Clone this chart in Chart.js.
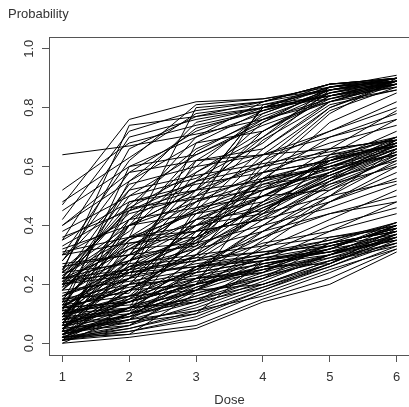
<!DOCTYPE html>
<html>
<head>
<meta charset="utf-8">
<script src="https://cdn.jsdelivr.net/npm/chart.js@4/dist/chart.umd.min.js"></script>
<style>
  html, body { margin: 0; padding: 0; background: #fff; overflow: hidden; }
  canvas { display: block; }
</style>
</head>
<body>
<canvas id="chart-dose-curves" width="411" height="407"></canvas>
<script>
// dose levels and axis ticks
const doses = [1, 2, 3, 4, 5, 6];
const doseTicks = [1, 2, 3, 4, 5, 6];
const probTicks = [0, 0.2, 0.4, 0.6, 0.8, 1.0];

// curves that end near 0.85 - 0.91
const highCurves = [
  [0.64, 0.67, 0.71, 0.76, 0.82, 0.88],
  [0.47, 0.76, 0.82, 0.83, 0.86, 0.90],
  [0.30, 0.62, 0.81, 0.83, 0.87, 0.90],
  [0.20, 0.52, 0.75, 0.80, 0.88, 0.90],
  [0.12, 0.45, 0.70, 0.82, 0.88, 0.89],
  [0.40, 0.55, 0.68, 0.79, 0.87, 0.89],
  [0.23, 0.38, 0.60, 0.78, 0.86, 0.90],
  [0.10, 0.30, 0.55, 0.75, 0.85, 0.89],
  [0.05, 0.25, 0.50, 0.72, 0.84, 0.88],
  [0.35, 0.70, 0.76, 0.80, 0.84, 0.89],
  [0.52, 0.68, 0.74, 0.79, 0.85, 0.88],
  [0.22, 0.47, 0.66, 0.76, 0.83, 0.89],
  [0.15, 0.35, 0.48, 0.69, 0.82, 0.88],
  [0.08, 0.20, 0.42, 0.64, 0.80, 0.88],
  [0.28, 0.58, 0.72, 0.80, 0.87, 0.91],
  [0.45, 0.60, 0.70, 0.78, 0.86, 0.90],
  [0.03, 0.15, 0.36, 0.60, 0.79, 0.87],
  [0.18, 0.42, 0.62, 0.76, 0.86, 0.89],
  [0.38, 0.50, 0.64, 0.74, 0.82, 0.86],
  [0.25, 0.66, 0.77, 0.82, 0.88, 0.90],
  [0.12, 0.28, 0.52, 0.70, 0.84, 0.89],
  [0.33, 0.46, 0.58, 0.72, 0.83, 0.87],
  [0.06, 0.40, 0.65, 0.77, 0.85, 0.89],
  [0.48, 0.63, 0.78, 0.81, 0.86, 0.89],
  [0.21, 0.33, 0.45, 0.66, 0.81, 0.86],
  [0.14, 0.55, 0.73, 0.79, 0.84, 0.88],
  [0.42, 0.72, 0.79, 0.82, 0.86, 0.90],
  [0.02, 0.10, 0.30, 0.55, 0.75, 0.85],
  [0.09, 0.32, 0.34, 0.62, 0.80, 0.89],
  [0.26, 0.30, 0.58, 0.70, 0.87, 0.89],
  [0.04, 0.48, 0.52, 0.80, 0.83, 0.88],
  [0.17, 0.22, 0.68, 0.72, 0.85, 0.90],
  [0.11, 0.60, 0.64, 0.75, 0.87, 0.89],
  [0.31, 0.36, 0.80, 0.82, 0.88, 0.90],
  [0.07, 0.12, 0.46, 0.81, 0.84, 0.89],
  [0.19, 0.50, 0.56, 0.68, 0.86, 0.88],
  [0.02, 0.27, 0.62, 0.66, 0.82, 0.89],
  [0.36, 0.45, 0.52, 0.80, 0.84, 0.87],
  [0.13, 0.40, 0.44, 0.58, 0.78, 0.90],
  [0.24, 0.74, 0.77, 0.80, 0.87, 0.90]
];

// curves that end near 0.72 - 0.82
const upperCurves = [
  [0.20, 0.36, 0.50, 0.62, 0.72, 0.80],
  [0.10, 0.22, 0.40, 0.56, 0.70, 0.78],
  [0.30, 0.42, 0.55, 0.64, 0.72, 0.82],
  [0.05, 0.18, 0.32, 0.48, 0.64, 0.76],
  [0.24, 0.40, 0.52, 0.60, 0.68, 0.74],
  [0.16, 0.26, 0.38, 0.50, 0.62, 0.72],
  [0.22, 0.54, 0.60, 0.64, 0.70, 0.76],
  [0.09, 0.28, 0.48, 0.58, 0.66, 0.79]
];

// curves that end near 0.58 - 0.70
const middleCurves = [
  [0.24, 0.45, 0.55, 0.60, 0.64, 0.69],
  [0.12, 0.30, 0.42, 0.52, 0.62, 0.68],
  [0.05, 0.18, 0.30, 0.45, 0.58, 0.67],
  [0.22, 0.32, 0.42, 0.50, 0.60, 0.66],
  [0.10, 0.15, 0.28, 0.42, 0.55, 0.65],
  [0.02, 0.10, 0.22, 0.38, 0.52, 0.64],
  [0.35, 0.48, 0.54, 0.58, 0.62, 0.68],
  [0.18, 0.40, 0.48, 0.55, 0.63, 0.70],
  [0.08, 0.25, 0.38, 0.50, 0.60, 0.67],
  [0.13, 0.22, 0.34, 0.48, 0.57, 0.66],
  [0.04, 0.12, 0.25, 0.40, 0.54, 0.63],
  [0.22, 0.28, 0.36, 0.46, 0.56, 0.62],
  [0.11, 0.20, 0.30, 0.44, 0.56, 0.69],
  [0.28, 0.52, 0.57, 0.61, 0.65, 0.70],
  [0.01, 0.06, 0.18, 0.33, 0.48, 0.60],
  [0.09, 0.35, 0.45, 0.53, 0.61, 0.68],
  [0.16, 0.30, 0.40, 0.47, 0.55, 0.64],
  [0.06, 0.14, 0.26, 0.38, 0.50, 0.62],
  [0.20, 0.25, 0.35, 0.47, 0.58, 0.67],
  [0.03, 0.08, 0.20, 0.35, 0.50, 0.66],
  [0.40, 0.58, 0.62, 0.64, 0.66, 0.69],
  [0.12, 0.18, 0.32, 0.45, 0.56, 0.65],
  [0.23, 0.36, 0.44, 0.52, 0.59, 0.64],
  [0.07, 0.28, 0.40, 0.50, 0.58, 0.66],
  [0.14, 0.24, 0.36, 0.46, 0.54, 0.60],
  [0.02, 0.12, 0.24, 0.40, 0.55, 0.68],
  [0.25, 0.44, 0.50, 0.56, 0.62, 0.67],
  [0.10, 0.16, 0.25, 0.36, 0.48, 0.58],
  [0.19, 0.32, 0.46, 0.54, 0.61, 0.69],
  [0.05, 0.22, 0.33, 0.43, 0.53, 0.63],
  [0.04, 0.34, 0.36, 0.56, 0.60, 0.68],
  [0.15, 0.17, 0.44, 0.48, 0.63, 0.67],
  [0.21, 0.46, 0.49, 0.52, 0.66, 0.69],
  [0.01, 0.20, 0.42, 0.45, 0.57, 0.66],
  [0.09, 0.11, 0.38, 0.56, 0.59, 0.70],
  [0.27, 0.30, 0.33, 0.58, 0.62, 0.68],
  [0.06, 0.42, 0.46, 0.50, 0.52, 0.61],
  [0.12, 0.14, 0.20, 0.52, 0.58, 0.69],
  [0.18, 0.36, 0.38, 0.42, 0.64, 0.67],
  [0.03, 0.16, 0.35, 0.54, 0.57, 0.65],
  [0.32, 0.40, 0.52, 0.55, 0.60, 0.64],
  [0.10, 0.26, 0.29, 0.44, 0.62, 0.70]
];

// curves that end near 0.44 - 0.56
const lowerMidCurves = [
  [0.08, 0.14, 0.22, 0.32, 0.42, 0.52],
  [0.20, 0.28, 0.34, 0.40, 0.46, 0.54],
  [0.03, 0.10, 0.18, 0.28, 0.38, 0.48],
  [0.12, 0.26, 0.32, 0.38, 0.44, 0.50],
  [0.30, 0.34, 0.38, 0.42, 0.48, 0.56],
  [0.06, 0.12, 0.20, 0.30, 0.40, 0.46],
  [0.05, 0.24, 0.28, 0.36, 0.44, 0.48],
  [0.14, 0.36, 0.40, 0.44, 0.50, 0.55],
  [0.01, 0.08, 0.26, 0.34, 0.38, 0.44]
];

// curves that end near 0.31 - 0.41
const lowCurves = [
  [0.02, 0.05, 0.10, 0.18, 0.26, 0.35],
  [0.05, 0.08, 0.14, 0.22, 0.30, 0.38],
  [0.10, 0.14, 0.20, 0.26, 0.32, 0.40],
  [0.01, 0.03, 0.06, 0.15, 0.22, 0.32],
  [0.12, 0.18, 0.24, 0.28, 0.33, 0.39],
  [0.04, 0.10, 0.16, 0.24, 0.30, 0.36],
  [0.20, 0.23, 0.26, 0.30, 0.34, 0.38],
  [0.08, 0.12, 0.18, 0.25, 0.32, 0.40],
  [0.03, 0.07, 0.12, 0.20, 0.28, 0.37],
  [0.15, 0.20, 0.24, 0.28, 0.32, 0.36],
  [0.06, 0.09, 0.15, 0.22, 0.29, 0.34],
  [0.01, 0.04, 0.09, 0.18, 0.27, 0.39],
  [0.22, 0.25, 0.28, 0.31, 0.35, 0.41],
  [0.09, 0.16, 0.22, 0.27, 0.31, 0.35],
  [0.02, 0.06, 0.13, 0.21, 0.30, 0.40],
  [0.11, 0.13, 0.17, 0.23, 0.30, 0.37],
  [0.04, 0.08, 0.11, 0.16, 0.24, 0.33],
  [0.13, 0.22, 0.27, 0.30, 0.34, 0.38],
  [0.07, 0.11, 0.19, 0.26, 0.33, 0.39],
  [0.00, 0.02, 0.05, 0.14, 0.20, 0.31],
  [0.18, 0.21, 0.25, 0.29, 0.33, 0.37],
  [0.03, 0.09, 0.16, 0.23, 0.28, 0.34],
  [0.10, 0.12, 0.15, 0.20, 0.27, 0.36],
  [0.05, 0.14, 0.20, 0.25, 0.30, 0.35],
  [0.24, 0.27, 0.30, 0.33, 0.36, 0.40],
  [0.02, 0.04, 0.08, 0.17, 0.25, 0.32],
  [0.08, 0.10, 0.14, 0.19, 0.26, 0.34],
  [0.14, 0.19, 0.23, 0.27, 0.31, 0.38],
  [0.01, 0.05, 0.11, 0.19, 0.27, 0.36],
  [0.06, 0.15, 0.21, 0.26, 0.32, 0.41],
  [0.03, 0.18, 0.20, 0.24, 0.34, 0.38],
  [0.12, 0.14, 0.26, 0.28, 0.32, 0.40],
  [0.01, 0.12, 0.14, 0.27, 0.30, 0.37],
  [0.07, 0.09, 0.22, 0.24, 0.36, 0.39],
  [0.16, 0.24, 0.26, 0.29, 0.31, 0.35],
  [0.02, 0.03, 0.17, 0.22, 0.34, 0.41],
  [0.09, 0.20, 0.22, 0.25, 0.29, 0.36],
  [0.05, 0.07, 0.10, 0.28, 0.31, 0.38],
  [0.21, 0.24, 0.29, 0.31, 0.33, 0.39],
  [0.00, 0.10, 0.18, 0.20, 0.28, 0.33],
  [0.13, 0.16, 0.18, 0.30, 0.35, 0.40],
  [0.04, 0.06, 0.19, 0.26, 0.27, 0.37]
];

const allCurves = [].concat(highCurves, upperCurves, middleCurves, lowerMidCurves, lowCurves);

const datasets = allCurves.map(curve => ({
  data: curve.map((p, i) => ({ x: doses[i], y: p })),
  borderColor: '#000',
  borderWidth: 1,
  pointRadius: 0,
  tension: 0,
  fill: false
}));

const axisFont = { family: '"Liberation Sans", Arial, sans-serif', size: 13 };
const axisColor = '#555';
const textColor = '#333';

// R style box round the plot plus the top-left label
const boxPlugin = {
  id: 'rBox',
  afterDraw(chart) {
    const { ctx, chartArea } = chart;
    ctx.save();
    ctx.strokeStyle = axisColor;
    ctx.lineWidth = 1;
    ctx.strokeRect(Math.round(chartArea.left) + 0.5, Math.round(chartArea.top) + 0.5,
      Math.round(chartArea.right - chartArea.left), Math.round(chartArea.bottom - chartArea.top));
    ctx.fillStyle = textColor;
    ctx.font = '13px "Liberation Sans", Arial, sans-serif';
    ctx.textBaseline = 'alphabetic';
    ctx.textAlign = 'left';
    ctx.fillText('Probability', 8, 18);
    ctx.restore();
  }
};

new Chart(document.getElementById('chart-dose-curves'), {
  type: 'line',
  data: { datasets: datasets },
  plugins: [boxPlugin],
  options: {
    responsive: false,
    animation: false,
    events: [],
    layout: { padding: { top: 37, right: 1, bottom: 0, left: 0 } },
    plugins: {
      legend: { display: false },
      tooltip: { enabled: false },
      title: { display: false }
    },
    scales: {
      x: {
        type: 'linear',
        min: 0.8,
        max: 6.2,
        afterBuildTicks: scale => { scale.ticks = doseTicks.map(v => ({ value: v })); },
        afterFit: scale => { scale.height = 52; },
        ticks: {
          autoSkip: false,
          maxRotation: 0,
          padding: 8,
          font: axisFont,
          color: textColor,
          callback: v => String(v)
        },
        grid: { drawOnChartArea: false, drawTicks: true, tickLength: 7, color: axisColor },
        border: { display: true, color: axisColor },
        title: { display: true, text: 'Dose', font: axisFont, color: textColor, padding: { top: 0, bottom: -1 } }
      },
      y: {
        type: 'linear',
        min: -0.04,
        max: 1.04,
        afterBuildTicks: scale => { scale.ticks = probTicks.map(v => ({ value: v })); },
        afterFit: scale => { scale.width = 49; },
        ticks: {
          autoSkip: false,
          minRotation: 90,
          maxRotation: 90,
          crossAlign: 'center',
          padding: 4,
          font: axisFont,
          color: textColor,
          callback: v => v.toFixed(1)
        },
        grid: { drawOnChartArea: false, drawTicks: true, tickLength: 7, color: axisColor },
        border: { display: true, color: axisColor }
      }
    }
  }
});
</script>
</body>
</html>
